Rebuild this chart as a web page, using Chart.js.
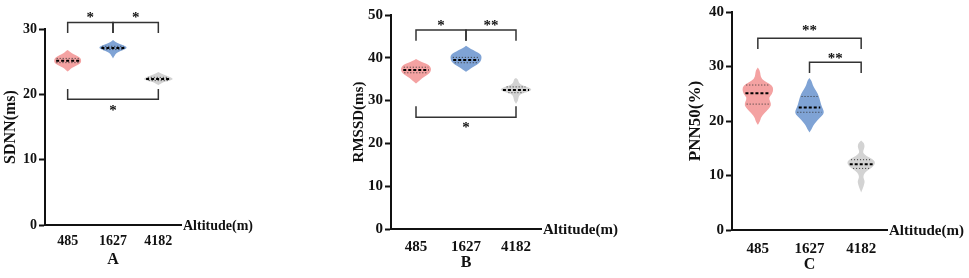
<!DOCTYPE html>
<html>
<head>
<meta charset="utf-8">
<script src="https://cdn.jsdelivr.net/npm/chart.js@4.4.1/dist/chart.umd.min.js"></script>
<style>
  html, body { margin: 0; padding: 0; background: #fff; width: 969px; height: 278px; overflow: hidden; }
  body { position: relative; }
  canvas { position: absolute; top: 0; }
</style>
</head>
<body>
<canvas id="cA" width="330" height="278" style="left:0px"></canvas>
<canvas id="cB" width="300" height="278" style="left:349px"></canvas>
<canvas id="cC" width="284" height="278" style="left:685px"></canvas>
<script>
// groups on the x axis
const altitudes = ['485', '1627', '4182'];

// [lower quartile, median, upper quartile] per group
const sdnnQuart = [[24.85, 25.15, 25.5], [26.85, 27.1, 27.35], [22.1, 22.35, 22.6]];
const rmssdQuart = [[36.5, 37.15, 37.8], [38.85, 39.5, 40.1], [31.85, 32.5, 33.2]];
const pnn50Quart = [[23.1, 25.1, 26.6], [21.6, 22.5, 24.5], [11.3, 12.05, 12.9]];

// violin outlines: [value, half width as share of a category]
const sdnn485 = [[26.8, 0], [26.6, 0.04], [26.3, 0.09], [26.0, 0.18], [25.6, 0.28], [25.2, 0.3], [24.8, 0.29], [24.5, 0.22], [24.2, 0.13], [23.9, 0.07], [23.5, 0]];
const sdnn1627 = [[28.3, 0], [28.0, 0.05], [27.7, 0.15], [27.4, 0.27], [27.15, 0.31], [26.9, 0.27], [26.6, 0.15], [26.3, 0.07], [26.0, 0.04], [25.5, 0]];
const sdnn4182 = [[23.4, 0], [23.1, 0.08], [22.8, 0.2], [22.5, 0.31], [22.3, 0.32], [22.1, 0.25], [21.9, 0.12], [21.6, 0.04], [21.4, 0]];

const rmssd485 = [[39.7, 0], [39.3, 0.06], [38.9, 0.15], [38.3, 0.26], [37.6, 0.3], [37.0, 0.3], [36.4, 0.27], [35.8, 0.2], [35.2, 0.12], [34.6, 0.06], [34.0, 0]];
const rmssd1627 = [[42.8, 0], [42.3, 0.06], [41.8, 0.14], [41.2, 0.25], [40.6, 0.31], [39.8, 0.31], [39.1, 0.29], [38.4, 0.22], [37.8, 0.13], [37.2, 0.06], [36.7, 0]];
const rmssd4182 = [[35.3, 0], [35.0, 0.04], [34.4, 0.05], [33.8, 0.08], [33.3, 0.2], [32.8, 0.3], [32.4, 0.31], [32.0, 0.22], [31.5, 0.08], [30.8, 0.05], [30.0, 0.04], [29.2, 0]];

const pnn485 = [[29.8, 0], [29.3, 0.04], [28.5, 0.05], [27.7, 0.07], [27.1, 0.18], [26.5, 0.28], [25.8, 0.3], [25.0, 0.28], [24.3, 0.21], [23.6, 0.24], [22.9, 0.26], [22.2, 0.21], [21.4, 0.12], [20.6, 0.06], [19.9, 0.04], [19.3, 0]];
const pnn1627 = [[27.9, 0], [27.4, 0.04], [26.6, 0.06], [25.8, 0.11], [25.0, 0.16], [24.3, 0.19], [23.5, 0.21], [22.6, 0.24], [21.8, 0.28], [21.2, 0.27], [20.5, 0.19], [19.8, 0.12], [19.1, 0.07], [18.5, 0.04], [17.9, 0]];
const pnn4182 = [[16.4, 0], [16.0, 0.05], [15.4, 0.07], [14.8, 0.05], [14.2, 0.03], [13.6, 0.1], [13.0, 0.22], [12.5, 0.27], [12.0, 0.26], [11.4, 0.2], [10.8, 0.1], [10.2, 0.05], [9.6, 0.04], [9.0, 0.07], [8.4, 0.06], [7.6, 0.03], [6.9, 0]];

// significance brackets: [from, to, bar value, end value, mark, mark value]
const sdnnSig = [[0, 1, 31.0, 29.4, '*', 32.3], [1, 2, 31.0, 29.4, '*', 32.3], [0, 2, 19.25, 20.8, '*', 18.0]];
const rmssdSig = [[0, 1, 46.5, 44.0, '*', 48.4], [1, 2, 46.5, 44.0, '**', 48.4], [0, 2, 26.1, 28.7, '*', 24.5]];
const pnnSig = [[0, 2, 35.2, 33.2, '**', 37.3], [1, 2, 30.8, 28.8, '**', 32.2]];

const fills = ['#f4a2a2', '#7fa3d5', '#d3d3d3'];
const serif = "'Liberation Serif', 'Times New Roman', serif";
const ink = '#111';

function widthAt(shape, v) {
  for (let k = 0; k < shape.length - 1; k++) {
    const [v0, w0] = shape[k], [v1, w1] = shape[k + 1];
    if (v <= v0 && v >= v1) return w0 + (w1 - w0) * (v0 - v) / (v0 - v1);
  }
  return 0;
}

const violinPlugin = {
  id: 'violins',
  afterDatasetsDraw(chart, args, opts) {
    const { ctx, scales: { x, y } } = chart;
    const band = x.getPixelForValue(1) - x.getPixelForValue(0);
    ctx.save();
    opts.shapes.forEach((shape, i) => {
      const cx = x.getPixelForValue(i);
      const right = shape.map(([v, w]) => [cx + w * band, y.getPixelForValue(v)]);
      const left = shape.slice().reverse().map(([v, w]) => [cx - w * band, y.getPixelForValue(v)]);
      const pts = right.concat(left);
      ctx.beginPath();
      ctx.moveTo(pts[0][0], pts[0][1]);
      for (let k = 1; k < pts.length - 1; k++) {
        const mx = (pts[k][0] + pts[k + 1][0]) / 2, my = (pts[k][1] + pts[k + 1][1]) / 2;
        ctx.quadraticCurveTo(pts[k][0], pts[k][1], mx, my);
      }
      ctx.closePath();
      ctx.fillStyle = fills[i];
      ctx.fill();
      // quartiles and median
      opts.quart[i].forEach((q, j) => {
        const hw = widthAt(shape, q) * band * 0.85;
        const py = y.getPixelForValue(q);
        ctx.beginPath();
        ctx.moveTo(cx - hw, py);
        ctx.lineTo(cx + hw, py);
        if (j === 1) { ctx.setLineDash([3, 2]); ctx.lineWidth = 2; ctx.strokeStyle = '#000'; }
        else { ctx.setLineDash([1, 2]); ctx.lineWidth = 1; ctx.strokeStyle = '#333'; }
        ctx.stroke();
      });
    });
    ctx.setLineDash([]);
    // brackets
    ctx.strokeStyle = '#333';
    ctx.lineWidth = 1.5;
    ctx.fillStyle = ink;
    ctx.font = 'bold 15px ' + serif;
    ctx.textAlign = 'center';
    ctx.textBaseline = 'alphabetic';
    opts.sig.forEach(([a, b, bar, end, mark, mv]) => {
      const xa = x.getPixelForValue(a), xb = x.getPixelForValue(b);
      const yb = y.getPixelForValue(bar), ye = y.getPixelForValue(end);
      ctx.beginPath();
      ctx.moveTo(xa, ye);
      ctx.lineTo(xa, yb);
      ctx.lineTo(xb, yb);
      ctx.lineTo(xb, ye);
      ctx.stroke();
      ctx.fillText(mark, (xa + xb) / 2, y.getPixelForValue(mv) + 8);
    });
    // x axis name at the end of the axis
    ctx.font = 'bold ' + opts.nameSize + 'px ' + serif;
    ctx.textAlign = 'left';
    ctx.textBaseline = 'middle';
    ctx.fillText('Altitude(m)', x.right + 2, x.top + 1);
    ctx.restore();
  }
};

function panel(id, c) {
  new Chart(document.getElementById(id), {
    type: 'line',
    data: {
      labels: altitudes,
      datasets: [{ data: c.quart.map(q => q[1]), showLine: false, pointRadius: 0 }]
    },
    options: {
      responsive: false,
      animation: false,
      devicePixelRatio: 1,
      layout: { padding: { left: 0, top: c.top, right: c.right, bottom: 0 } },
      plugins: {
        legend: { display: false },
        tooltip: { enabled: false },
        violins: { shapes: c.shapes, quart: c.quart, sig: c.sig, nameSize: c.nameSize }
      },
      scales: {
        x: {
          type: 'category',
          offset: true,
          grid: { display: false, drawTicks: false },
          border: { color: ink, width: 2 },
          ticks: { color: ink, padding: c.xPad, maxRotation: 0, font: { family: serif, size: c.xTick, weight: 'bold' } },
          title: { display: true, text: c.letter, color: ink, padding: { top: 0, bottom: c.letterPad }, font: { family: serif, size: 16, weight: 'bold' } },
          afterFit: s => { s.height = c.xh; }
        },
        y: {
          min: 0,
          max: c.max,
          ticks: { stepSize: 10, color: ink, padding: 2, font: { family: serif, size: c.yTick, weight: 'bold' } },
          grid: { drawOnChartArea: false, color: ink, tickLength: 6, tickWidth: 2 },
          border: { color: ink, width: 2 },
          title: { display: true, text: c.yName, color: ink, padding: { top: c.yNamePad, bottom: 0 }, font: { family: serif, size: c.yNameSize, weight: 'bold' } },
          afterFit: s => { s.width = c.yw; }
        }
      }
    },
    plugins: [violinPlugin]
  });
}

panel('cA', {
  shapes: [sdnn485, sdnn1627, sdnn4182], quart: sdnnQuart, sig: sdnnSig,
  max: 30, top: 29, right: 149, xh: 53, yw: 45,
  yName: 'SDNN(ms)', yNameSize: 16, yNamePad: 1, yTick: 14, xTick: 14, xPad: 8,
  letter: 'A', letterPad: 9, nameSize: 14
});
panel('cB', {
  shapes: [rmssd485, rmssd1627, rmssd4182], quart: rmssdQuart, sig: rmssdSig,
  max: 50, top: 15, right: 108, xh: 49, yw: 42,
  yName: 'RMSSD(ms)', yNameSize: 15, yNamePad: 1, yTick: 15, xTick: 15, xPad: 9,
  letter: 'B', letterPad: 6, nameSize: 15
});
panel('cC', {
  shapes: [pnn485, pnn1627, pnn4182], quart: pnn50Quart, sig: pnnSig,
  max: 40, top: 12, right: 82, xh: 48, yw: 47,
  yName: 'PNN50(%)', yNameSize: 17, yNamePad: 0, yTick: 15, xTick: 15, xPad: 10,
  letter: 'C', letterPad: 4, nameSize: 15
});
</script>
</body>
</html>
